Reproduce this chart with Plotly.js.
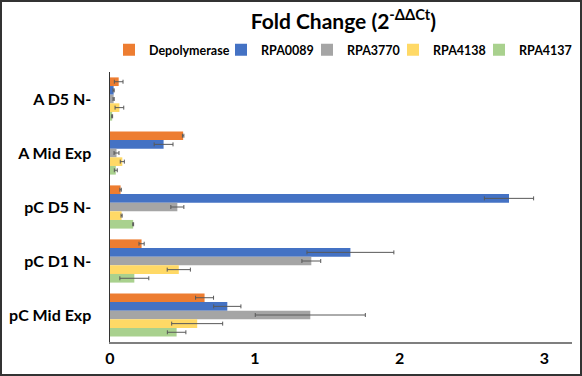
<!DOCTYPE html>
<html>
<head>
<meta charset="utf-8">
<script src="https://cdn.plot.ly/plotly-3.0.1.min.js"></script>
<style>
html,body{margin:0;padding:0;background:#fff;}
#wrap{position:relative;width:582px;height:376px;}
#chart{position:absolute;left:0;top:0;width:582px;height:376px;}
#frame{position:absolute;left:0;top:0;width:582px;height:376px;box-sizing:border-box;border:2px solid #333;pointer-events:none;}
</style>
</head>
<body>
<div id="wrap"><div id="chart"></div><div id="frame"></div></div>
<script>
const categories = ["A D5 N-", "A Mid Exp", "pC D5 N-", "pC D1 N-", "pC Mid Exp"];
const seriesNames = ["Depolymerase", "RPA0089", "RPA3770", "RPA4138", "RPA4137"];
const depolymerase = [0.06, 0.505, 0.073, 0.218, 0.653];
const depolymeraseErr = [0.03, 0.005, 0.005, 0.018, 0.062];
const rpa0089 = [0.025, 0.37, 2.755, 1.66, 0.81];
const rpa0089Err = [0.004, 0.065, 0.17, 0.3, 0.094];
const rpa3770 = [0.025, 0.045, 0.465, 1.39, 1.383];
const rpa3770Err = [0.004, 0.017, 0.045, 0.065, 0.38];
const rpa4138 = [0.065, 0.085, 0.08, 0.475, 0.602];
const rpa4138Err = [0.03, 0.014, 0.004, 0.08, 0.176];
const rpa4137 = [0.015, 0.04, 0.16, 0.168, 0.46];
const rpa4137Err = [0.003, 0.01, 0.003, 0.1, 0.064];
const xTicks = [0, 1, 2, 3];

const values = [depolymerase, rpa0089, rpa3770, rpa4138, rpa4137];
const errs = [depolymeraseErr, rpa0089Err, rpa3770Err, rpa4138Err, rpa4137Err];
const colors = ["#ED7D31", "#4472C4", "#A5A5A5", "#FFD966", "#A9D18E"];
const legendWidths = [67, 41, 41, 41, 58];
const font = "Lato, 'Open Sans', sans-serif";

const traces = seriesNames.map((n, i) => ({
  type: "bar",
  orientation: "h",
  name: n,
  y: categories,
  x: values[i],
  legendwidth: legendWidths[i],
  marker: {color: colors[i]},
  error_x: {type: "data", array: errs[i], visible: true, color: "#595959", thickness: 1, width: 2}
}));

const layout = {
  width: 582, height: 376,
  margin: {l: 110, r: 10, t: 72, b: 34},
  paper_bgcolor: "#fff", plot_bgcolor: "#fff",
  barmode: "group", bargap: 0.2, bargroupgap: 0,
  title: {text: "<b>Fold Change (2<sup>-ΔΔCt</sup>)</b>", font: {family: font, size: 21, color: "#000"},
          x: 0.59, xanchor: "center", y: 0.942, yanchor: "middle"},
  showlegend: true,
  legend: {orientation: "h", x: -0.001, xanchor: "left", y: 1.081, yanchor: "middle",
           font: {family: font, size: 12.5, color: "#000", weight: "bold"}, traceorder: "normal",
           itemwidth: 30},
  xaxis: {range: [0, 3.19], tickvals: xTicks, showgrid: false, zeroline: false,
          showline: true, linecolor: "#7f7f7f", linewidth: 1.5, ticks: "",
          ticklabelstandoff: 1,
          tickfont: {family: font, size: 16, color: "#000", weight: "bold"}},
  yaxis: {type: "category", autorange: "reversed", showgrid: false, zeroline: false,
          showline: true, linecolor: "#333", linewidth: 1.5, ticks: "",
          ticklabelstandoff: 14,
          tickfont: {family: font, size: 16, color: "#000", weight: "bold"}}
};

Plotly.newPlot("chart", traces, layout, {displayModeBar: false, staticPlot: true});
</script>
</body>
</html>
